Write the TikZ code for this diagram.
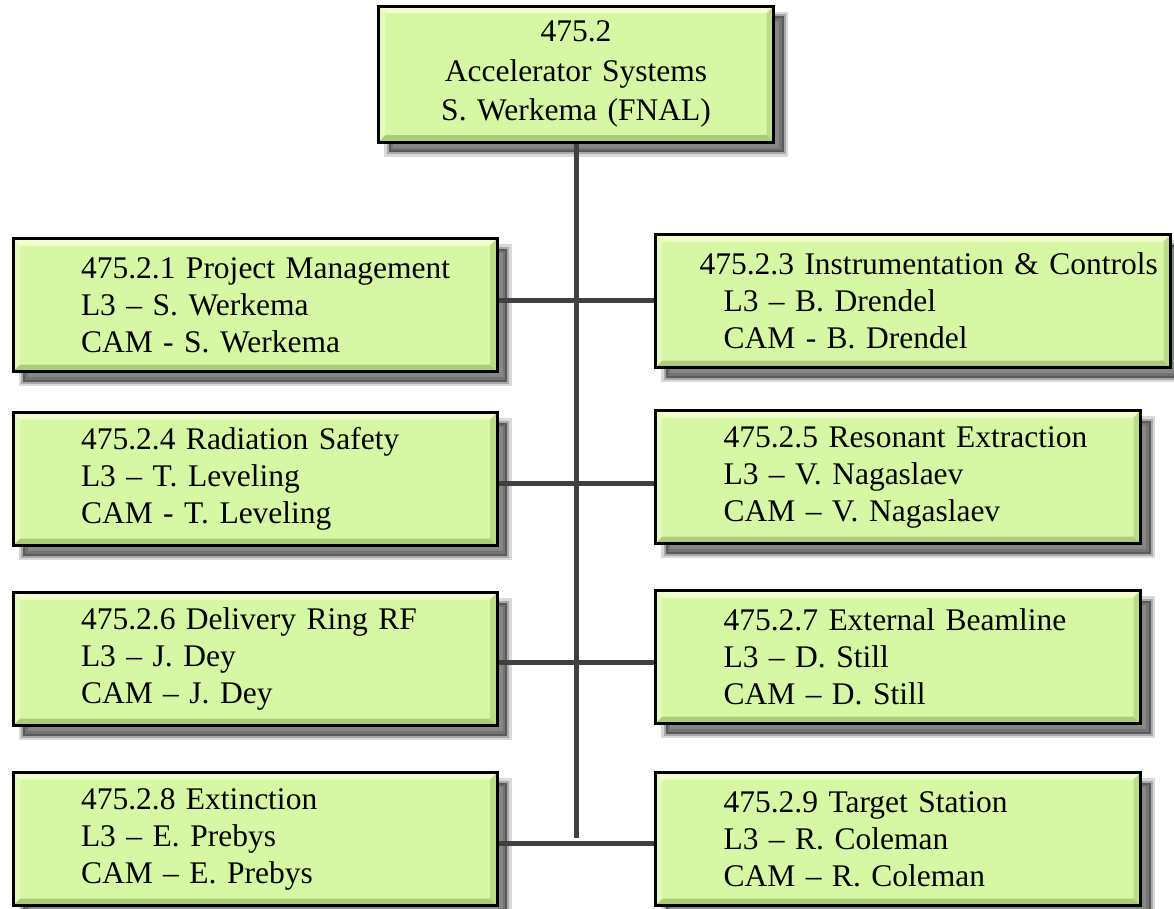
\documentclass[tikz,border=0pt]{standalone}
\usepackage{fontspec}
\setmainfont{Liberation Serif}
\usepackage{tikz}

\definecolor{boxfill}{RGB}{214,248,164}
\definecolor{bevtop}{RGB}{244,253,204}
\definecolor{bevleft}{RGB}{228,251,186}
\definecolor{bevbottom}{RGB}{172,204,124}
\definecolor{bevright}{RGB}{188,220,140}
\definecolor{linkgray}{RGB}{64,64,64}

\begin{document}
\begin{tikzpicture}[x=1pt, y=-1pt,
        wbs/.style={rectangle, draw=black, line width=3pt, fill=boxfill, inner sep=0pt,
            minimum height=133pt, text width=#1, minimum width=#1, align=left,
            font=\fontsize{31.5}{37}\selectfont,
            preaction={fill=black, draw=black, line width=9pt, opacity=0.15, transform canvas={shift={(10pt,-10pt)}}},
            preaction={fill=black, draw=black, line width=4pt, opacity=0.22, transform canvas={shift={(10pt,-10pt)}}},
            preaction={fill=black, opacity=0.2, transform canvas={shift={(10pt,-10pt)}}},
            path picture={
                \fill[bevtop] (path picture bounding box.north west) -- (path picture bounding box.north east)
                    -- ([shift={(-7pt,-7pt)}]path picture bounding box.north east) -- ([shift={(7pt,-7pt)}]path picture bounding box.north west) -- cycle;
                \fill[bevleft] (path picture bounding box.north west) -- (path picture bounding box.south west)
                    -- ([shift={(7pt,7pt)}]path picture bounding box.south west) -- ([shift={(7pt,-7pt)}]path picture bounding box.north west) -- cycle;
                \fill[bevbottom] (path picture bounding box.south west) -- (path picture bounding box.south east)
                    -- ([shift={(-7pt,7pt)}]path picture bounding box.south east) -- ([shift={(7pt,7pt)}]path picture bounding box.south west) -- cycle;
                \fill[bevright] (path picture bounding box.north east) -- (path picture bounding box.south east)
                    -- ([shift={(-7pt,7pt)}]path picture bounding box.south east) -- ([shift={(-7pt,-7pt)}]path picture bounding box.north east) -- cycle;
            }},
        head/.style={wbs=395pt, minimum height=136pt, align=center, font=\fontsize{31.5}{39.5}\selectfont},
        link/.style={draw=linkgray, line width=5pt}]

    \useasboundingbox (0,0) rectangle (1174,908);

    % top level
    \node[head] (top) at (576,74) {475.2\\Accelerator Systems\\S. Werkema (FNAL)};

    % level 3 boxes
    \node[wbs=484pt] (l1) at (255,305) {\leftskip=68pt 475.2.1 Project Management\\L3 – S. Werkema\\CAM - S. Werkema\par};
    \node[wbs=515pt] (r1) at (913,301) {\leftskip=68pt \hspace*{-24pt}475.2.3 Instrumentation \& Controls\\L3 – B. Drendel\\CAM - B. Drendel\par};
    \node[wbs=484pt] (l2) at (255,479) {\leftskip=68pt 475.2.4 Radiation Safety\\L3 – T. Leveling\\CAM - T. Leveling\par};
    \node[wbs=485pt] (r2) at (898,477) {\leftskip=68pt 475.2.5 Resonant Extraction\\L3 – V. Nagaslaev\\CAM – V. Nagaslaev\par};
    \node[wbs=484pt] (l3) at (255,659) {\leftskip=68pt 475.2.6 Delivery Ring RF\\L3 – J. Dey\\CAM – J. Dey\par};
    \node[wbs=485pt] (r3) at (898,657) {\leftskip=68pt 475.2.7 External Beamline\\L3 – D. Still\\CAM – D. Still\par};
    \node[wbs=484pt] (l4) at (255,839) {\leftskip=68pt 475.2.8 Extinction\\L3 – E. Prebys\\CAM – E. Prebys\par};
    \node[wbs=485pt] (r4) at (898,839) {\leftskip=68pt 475.2.9 Target Station\\L3 – R. Coleman\\CAM – R. Coleman\par};

    % junctions on the spine
    \coordinate (j1) at (576,300);
    \coordinate (j2) at (576,483);
    \coordinate (j3) at (576,662);
    \coordinate (j4) at (576,843);

    \draw[link] (top.south) -- ([yshift=5pt]j4);
    \draw[link] (j1 -| l1.east) -- (j1 -| r1.west);
    \draw[link] (j2 -| l2.east) -- (j2 -| r2.west);
    \draw[link] (j3 -| l3.east) -- (j3 -| r3.west);
    \draw[link] (j4 -| l4.east) -- (j4 -| r4.west);
\end{tikzpicture}
\end{document}
